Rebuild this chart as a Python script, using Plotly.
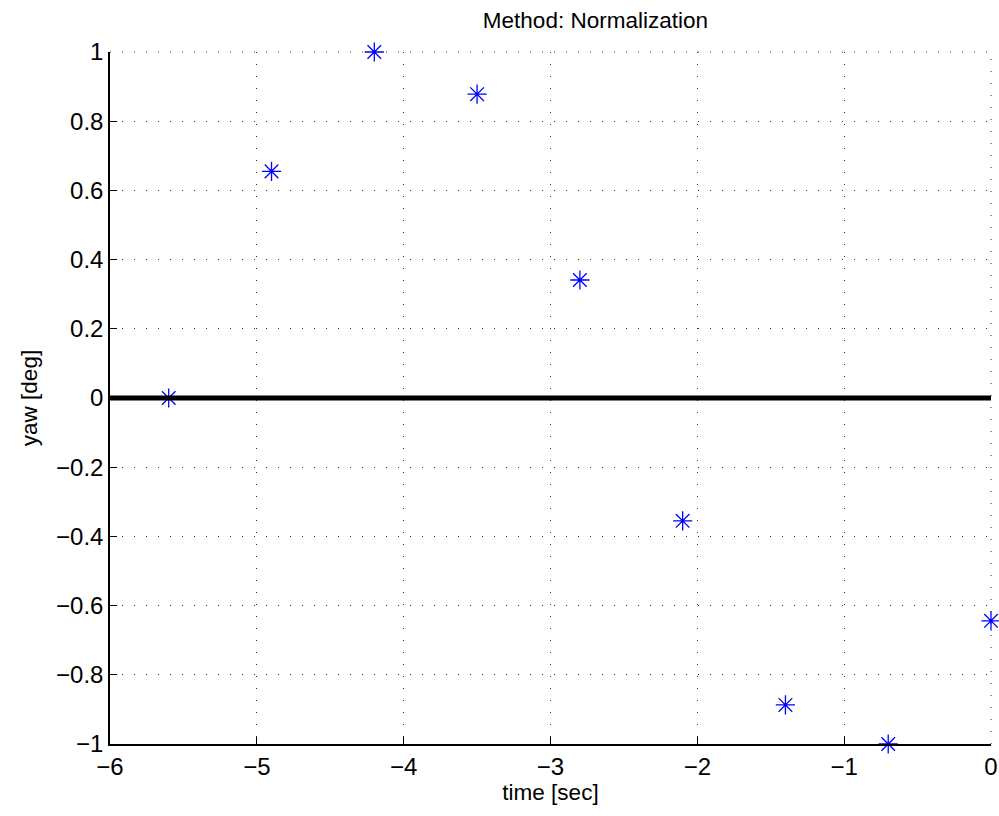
import plotly.graph_objects as go

time_sec = [-5.6, -4.9, -4.2, -3.5, -2.8, -2.1, -1.4, -0.7, 0.0]
yaw_deg = [0.0, 0.655, 1.0, 0.878, 0.341, -0.355, -0.887, -1.0, -0.644]
ref_x = [-6, 0]
ref_y = [0, 0]
x_ticks = [-6, -5, -4, -3, -2, -1, 0]
y_ticks = [-1, -0.8, -0.6, -0.4, -0.2, 0, 0.2, 0.4, 0.6, 0.8, 1]

font = "Liberation Sans, Arial, Helvetica, sans-serif"
grid_color = "#333333"
grid_dash = "1px,11px"


def lab(v):
    return ("%g" % v).replace("-", "\u2212")


fig = go.Figure()
fig.add_trace(go.Scatter(
    x=time_sec, y=yaw_deg, mode="markers", cliponaxis=False,
    marker=dict(symbol="asterisk-open", size=16, color="#0000ff",
                line=dict(width=1.3, color="#0000ff")),
    showlegend=False))
fig.add_trace(go.Scatter(
    x=ref_x, y=ref_y, mode="lines",
    line=dict(color="black", width=5), showlegend=False))

axis_common = dict(
    showgrid=True, gridcolor=grid_color, griddash=grid_dash, gridwidth=1,
    zeroline=False, showline=True, linecolor="black", linewidth=1.5,
    ticks="inside", ticklen=7, tickcolor="black", mirror=False,
    automargin=False,
    tickfont=dict(family=font, size=24, color="black"),
)

fig.update_layout(
    width=999, height=816,
    margin=dict(l=110, r=8, t=52, b=72),
    paper_bgcolor="white", plot_bgcolor="white",
    title=dict(text="Method: Normalization", x=0.596, xanchor="center",
               y=0.975, yanchor="middle", automargin=False,
               font=dict(family=font, size=22.5, color="black")),
    xaxis=dict(range=[-6, 0], tickvals=x_ticks, ticktext=[lab(v) for v in x_ticks],
               title=dict(text="time [sec]", font=dict(family=font, size=22.5, color="black"), standoff=6),
               **axis_common),
    yaxis=dict(range=[-1, 1], tickvals=y_ticks, ticktext=[lab(v) for v in y_ticks],
               title=dict(text="yaw [deg]", font=dict(family=font, size=22.5, color="black"), standoff=12),
               **axis_common),
)

# dotted grid lines along the top and right edges of the plotting area
fig.add_shape(type="line", xref="paper", yref="paper", x0=0, x1=1, y0=1, y1=1,
              line=dict(color=grid_color, width=1, dash=grid_dash), layer="below")
fig.add_shape(type="line", xref="paper", yref="paper", x0=1, x1=1, y0=0, y1=1,
              line=dict(color=grid_color, width=1, dash=grid_dash), layer="below")

fig.write_html(
    "out.html",
    config={"displayModeBar": False},
    post_script="document.body.style.margin='0px';document.body.style.overflow='hidden';",
)
